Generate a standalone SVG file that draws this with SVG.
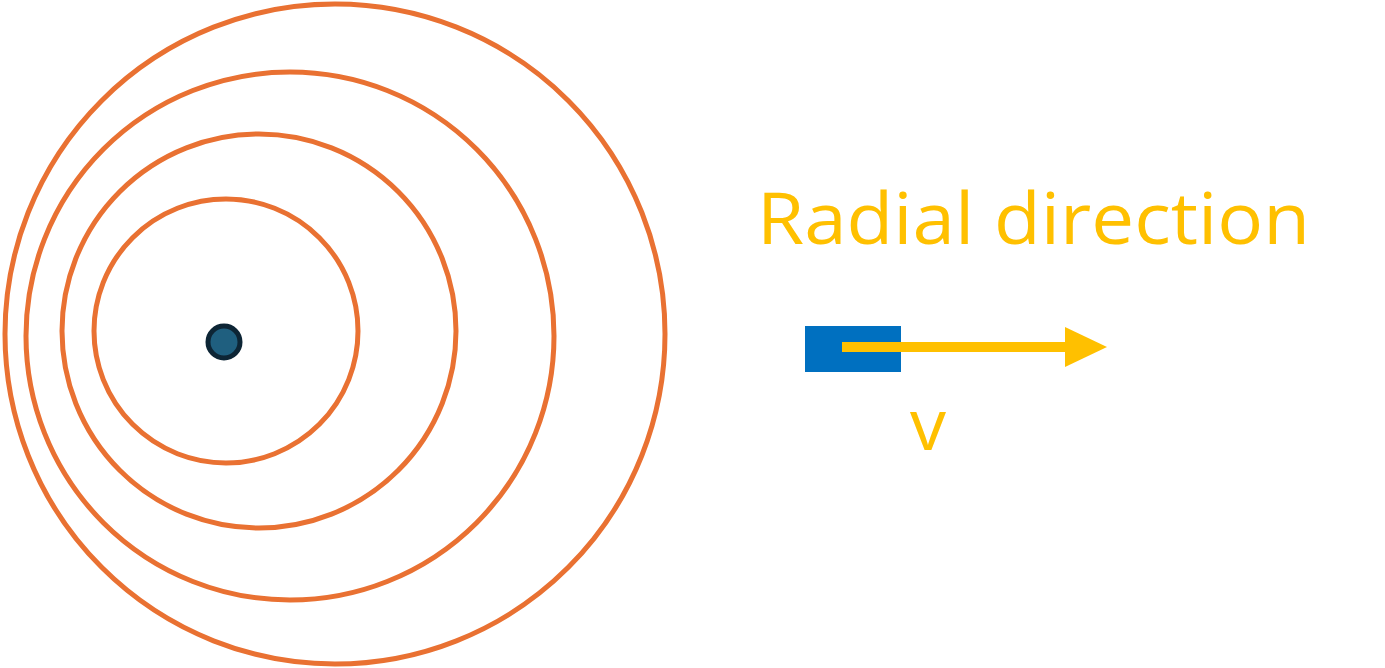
<svg xmlns="http://www.w3.org/2000/svg" width="1385" height="668" viewBox="0 0 1385 668">
<style>
.ring{fill:none;stroke:#E97132;stroke-width:5}
.lbl{fill:#FFC000;font-family:"Open Sans","Liberation Sans",sans-serif;font-size:72px}
</style>
<defs>
<marker id="ah" markerUnits="userSpaceOnUse" markerWidth="42" markerHeight="40" refX="0" refY="20" orient="auto">
<path d="M0,0 L42,20 L0,40 Z" fill="#FFC000"/>
</marker>
</defs>
<rect width="1385" height="668" fill="#fff"/>
<g id="ring1"><circle class="ring" cx="335" cy="334" r="330"/></g>
<g id="ring2"><circle class="ring" cx="290" cy="336" r="264"/></g>
<g id="ring3"><circle class="ring" cx="259" cy="331" r="197"/></g>
<g id="ring4"><circle class="ring" cx="226" cy="331" r="132"/></g>
<g id="center"><circle cx="224" cy="342" r="16" fill="#1F5F7F" stroke="#0D2535" stroke-width="5"/></g>
<g id="block"><rect x="805" y="326" width="96" height="46" fill="#0070C0"/></g>
<g id="connectors"><line x1="842" y1="347" x2="1065" y2="347" stroke="#FFC000" stroke-width="10" marker-end="url(#ah)"/></g>
<g id="labels">
<text class="lbl" x="757" y="244" textLength="553" lengthAdjust="spacingAndGlyphs">Radial direction</text>
<text class="lbl" x="910" y="450">v</text>
</g>
</svg>
